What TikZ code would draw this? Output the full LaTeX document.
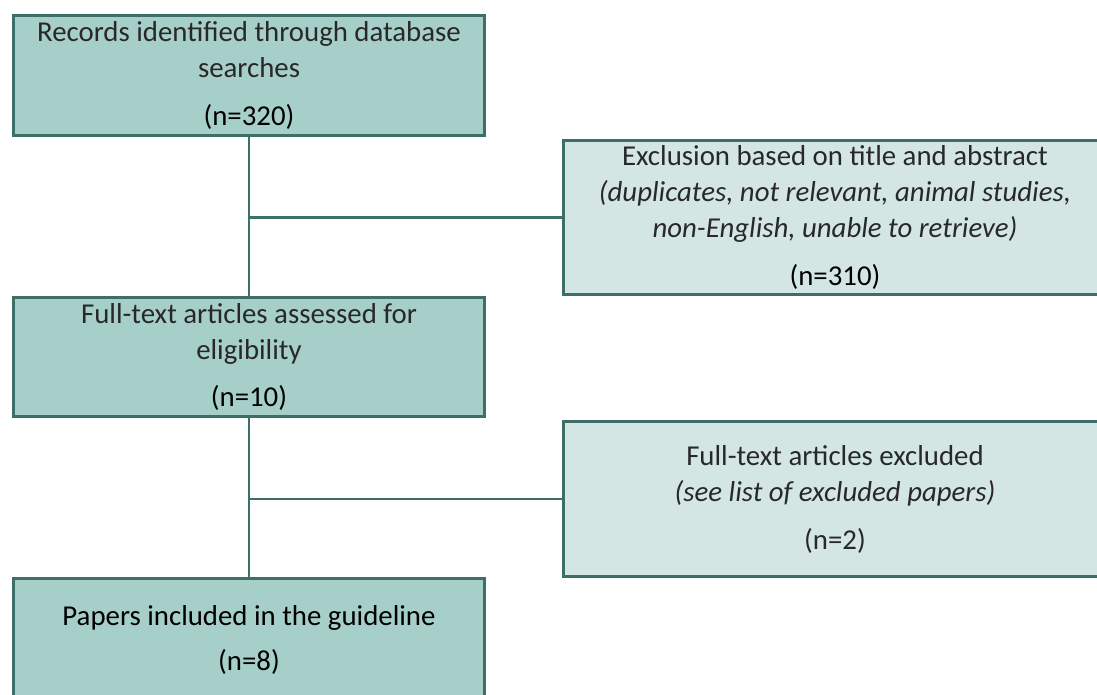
\documentclass[tikz,border=0pt]{standalone}
\usepackage{fontspec}
\setmainfont{Carlito}
\definecolor{boxline}{RGB}{61,110,103}
\definecolor{boxdark}{RGB}{167,207,201}
\definecolor{boxlight}{RGB}{211,230,227}
\definecolor{lighttext}{RGB}{40,40,40}

\begin{document}
\begin{tikzpicture}[x=0.02cm,y=-0.02cm,
  stage/.style={draw=boxline,fill=boxdark,line width=2.1pt,minimum width=9.42cm,
    align=center,inner sep=0pt,font=\fontsize{16.4}{20.5}\selectfont},
  drop/.style={draw=boxline,fill=boxlight,line width=2.1pt,minimum width=12cm,
    anchor=west,inner sep=0pt},
  droptext/.style={align=center,inner sep=0pt,font=\fontsize{16.4}{20.5}\selectfont},
  link/.style={draw=boxline,line width=1.7pt}]
\useasboundingbox (0,0) rectangle (1097,695);
\clip (0,0) rectangle (1097,695);
% main stages
\node[stage,minimum height=2.40cm] (records) at (249,75.5)
  {\color{lighttext}Records identified through database\\\color{lighttext}searches\\[6.8pt](n=320)};
\node[stage,minimum height=2.38cm] (fulltext) at (249,357)
  {\color{lighttext}Full-text articles assessed for\\\color{lighttext}eligibility\\[6.8pt](n=10)};
\node[stage,minimum height=2.46cm] (included) at (249,640)
  {Papers included in the guideline\\[5pt](n=8)};
% exclusions
\node[drop,minimum height=3.08cm] (screenout) at (561.5,217.5) {};
\node[droptext] (screenlabel) at (835,217.5)
  {\color{lighttext}Exclusion based on title and abstract\\\color{lighttext}\textit{(duplicates, not relevant, animal studies,}\\\color{lighttext}\textit{non-English, unable to retrieve)}\\[6.8pt](n=310)};
\node[drop,minimum height=3.10cm] (fullout) at (561.5,499) {};
\node[droptext] (fulllabel) at (835,499)
  {\color{lighttext}Full-text articles excluded\\\color{lighttext}\textit{(see list of excluded papers)}\\[6.8pt]\color{lighttext}(n=2)};
% connectors
\coordinate (split1) at (records.south |- screenout.west);
\coordinate (split2) at (fulltext.south |- fullout.west);
\draw[link] (records.south) -- (fulltext.north);
\draw[link] (split1) -- (screenout.west);
\draw[link] (fulltext.south) -- (included.north);
\draw[link] (split2) -- (fullout.west);
\end{tikzpicture}
\end{document}
